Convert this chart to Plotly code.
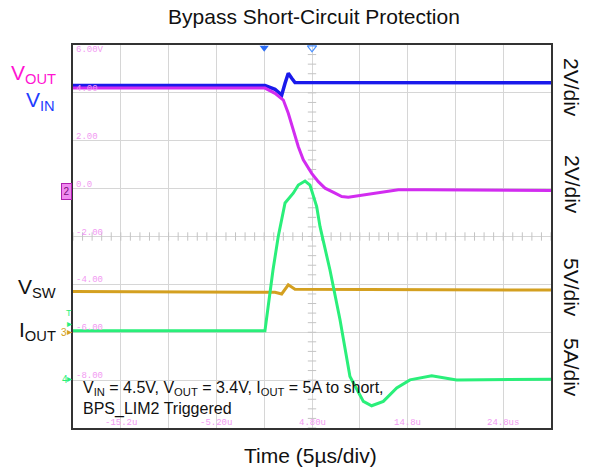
import numpy as np
import plotly.graph_objects as go

# ---------------- data (time in µs, amplitude in screen units of the ch2 scale: 2 per division) ----
t_vin = [-20.2, -0.12, 0.93, 1.63, 1.98, 2.32, 2.68, 3.02, 29.8]
v_vin = [4.31, 4.31, 4.15, 3.91, 4.40, 4.82, 4.61, 4.43, 4.42]

t_vout = [-20.2, -0.12, 0.93, 1.80, 2.32, 2.68, 3.02, 3.37, 3.89, 4.77, 5.46, 6.16,
          7.21, 7.91, 8.60, 10.34, 12.09, 13.83, 16.62, 29.8]
v_vout = [4.20, 4.20, 3.98, 3.70, 3.15, 2.66, 2.17, 1.75, 1.20, 0.64, 0.29, 0.02,
          -0.19, -0.33, -0.36, -0.26, -0.13, -0.05, -0.05, -0.08]

t_vsw = [-20.2, -0.12, 0.93, 1.63, 2.32, 3.02, 29.8]
v_vsw = [-4.30, -4.30, -4.33, -4.40, -4.02, -4.20, -4.24]

t_iout = [-20.2, -0.12, 0.72, 1.27, 1.98, 2.84, 3.37, 4.07, 4.59, 4.94, 5.29, 5.64,
          6.68, 7.73, 8.77, 10.17, 11.04, 12.26, 13.66, 15.05, 17.32, 19.93, 29.8]
v_iout = [-5.94, -5.94, -3.40, -2.00, -0.60, -0.19, 0.15, 0.32, 0.15, -0.33, -0.75, -1.59,
          -3.40, -5.48, -7.85, -8.89, -9.07, -8.89, -8.33, -7.99, -7.82, -7.99, -7.96]

x_range = [-20.2, 29.8]
y_range = [-10, 6]
x_grid = [-15.2, -10.2, -5.2, -0.2, 4.8, 9.8, 14.8, 19.8, 24.8]
x_tick_vals = [-15.2, -5.2, 4.8, 14.8, 24.8]
x_tick_text = ["-15.2u", "-5.20u", "4.80u", "14.8u", "24.8us"]
y_grid = [4, 2, 0, -2, -4, -6, -8]
y_tick_vals = [6, 4, 2, 0, -2, -4, -6, -8]
y_tick_text = ["6.00V", "4.00", "2.00", "0.0", "-2.00", "-4.00", "-6.00", "-8.00"]
trigger_time = [-0.2]
center_time = [4.8]
center_level = -2

scale_labels = ["2V/div", "2V/div", "5V/div", "5A/div"]

# ---------------- colours ----------------
C_BLUE = "#1a1aeb"
C_MAG = "#d22cf0"
C_GOLD = "#d4a020"
C_GREEN = "#2aef7a"
C_PINK = "#f29af2"
FONT = "Liberation Sans, Arial, sans-serif"

L, R, T, B = 73, 42, 45, 42
W, H = 593, 470
PW, PH = W - L - R, H - T - B


def px_x(p):
    return (p - L) / PW


def px_y(p):
    return 1 - (p - T) / PH


fig = go.Figure()

# minor ticks on the centre cross-hair
minor_x = np.arange(x_range[0], x_range[1] + 1e-9, 1.0)
minor_y = np.arange(y_range[0], y_range[1] + 1e-9, 0.4)
fig.add_trace(go.Scatter(x=minor_x, y=[center_level] * len(minor_x), mode="markers",
                         marker=dict(symbol="line-ns", size=6, line=dict(width=1, color="#c4c4c4")),
                         hoverinfo="skip", showlegend=False))
fig.add_trace(go.Scatter(x=center_time * len(minor_y), y=minor_y, mode="markers",
                         marker=dict(symbol="line-ew", size=6, line=dict(width=1, color="#c4c4c4")),
                         hoverinfo="skip", showlegend=False))

fig.add_trace(go.Scatter(x=t_vin, y=v_vin, mode="lines", line=dict(color=C_BLUE, width=3.5),
                         showlegend=False))
fig.add_trace(go.Scatter(x=t_vout, y=v_vout, mode="lines", line=dict(color=C_MAG, width=3),
                         showlegend=False))
fig.add_trace(go.Scatter(x=t_vsw, y=v_vsw, mode="lines", line=dict(color=C_GOLD, width=3),
                         showlegend=False))
fig.add_trace(go.Scatter(x=t_iout, y=v_iout, mode="lines", line=dict(color=C_GREEN, width=3),
                         showlegend=False))

# trigger markers on top edge
fig.add_trace(go.Scatter(x=trigger_time, y=[y_range[1] - 0.12], mode="markers", cliponaxis=False,
                         marker=dict(symbol="triangle-down", size=8, color="#2a6cf5"),
                         hoverinfo="skip", showlegend=False))
fig.add_trace(go.Scatter(x=center_time, y=[y_range[1] - 0.12], mode="markers", cliponaxis=False,
                         marker=dict(symbol="triangle-down-open", size=8, color="#4a90ff",
                                     line=dict(width=1.2)),
                         hoverinfo="skip", showlegend=False))

ann = []
# scope graticule labels (pink)
for v, txt in zip(y_tick_vals, y_tick_text):
    ann.append(dict(x=x_range[0], y=v, xref="x", yref="y", text=txt, showarrow=False,
                    xanchor="left", yanchor="middle", xshift=1, yshift=(-5 if v == y_range[1] else 4),
                    font=dict(family="Liberation Mono, DejaVu Sans Mono, monospace", size=9, color=C_PINK)))
for v, txt in zip(x_tick_vals, x_tick_text):
    ann.append(dict(x=v, y=y_range[0], xref="x", yref="y", text=txt, showarrow=False,
                    xanchor="center", yanchor="middle", yshift=5, borderpad=0,
                    font=dict(family="Liberation Mono, DejaVu Sans Mono, monospace", size=9, color=C_PINK)))

# channel labels on the left
ann.append(dict(x=px_x(58), y=px_y(74), xref="paper", yref="paper", text="V<sub>OUT</sub>",
                showarrow=False, xanchor="right", yanchor="middle",
                font=dict(family=FONT, size=21, color="#ff14d2")))
ann.append(dict(x=px_x(57), y=px_y(101), xref="paper", yref="paper", text="V<sub>IN</sub>",
                showarrow=False, xanchor="right", yanchor="middle",
                font=dict(family=FONT, size=21, color="#1f3dff")))
ann.append(dict(x=px_x(58), y=px_y(288), xref="paper", yref="paper", text="V<sub>SW</sub>",
                showarrow=False, xanchor="right", yanchor="middle",
                font=dict(family=FONT, size=21, color="#111111")))
ann.append(dict(x=px_x(57), y=px_y(331), xref="paper", yref="paper", text="I<sub>OUT</sub>",
                showarrow=False, xanchor="right", yanchor="middle", borderpad=0,
                font=dict(family=FONT, size=21, color="#111111")))

# channel markers
ann.append(dict(x=px_x(66.5), y=px_y(191), xref="paper", yref="paper", text="2",
                showarrow=False, xanchor="center", yanchor="middle", width=9, height=15,
                bgcolor="#f08af0", bordercolor="#b020b0", borderwidth=1, borderpad=0,
                font=dict(family=FONT, size=10, color="#7a107a")))
ann.append(dict(x=px_x(69), y=px_y(313), xref="paper", yref="paper", text="T",
                showarrow=False, xanchor="center", yanchor="middle",
                font=dict(family=FONT, size=9, color=C_GREEN)))
ann.append(dict(x=px_x(73), y=px_y(323), xref="paper", yref="paper", text="▸",
                showarrow=False, xanchor="right", yanchor="middle", borderpad=0,
                font=dict(family="DejaVu Sans", size=10, color=C_GREEN)))
ann.append(dict(x=px_x(64), y=px_y(332), xref="paper", yref="paper", text="3",
                showarrow=False, xanchor="center", yanchor="middle", borderpad=0,
                font=dict(family=FONT, size=10, color=C_GOLD)))
ann.append(dict(x=px_x(73), y=px_y(331), xref="paper", yref="paper", text="▸",
                showarrow=False, xanchor="right", yanchor="middle", borderpad=0,
                font=dict(family="DejaVu Sans", size=10, color=C_GOLD)))
ann.append(dict(x=px_x(65), y=px_y(379), xref="paper", yref="paper", text="4",
                showarrow=False, xanchor="center", yanchor="middle", borderpad=0,
                font=dict(family=FONT, size=10, color=C_GREEN)))
ann.append(dict(x=px_x(73), y=px_y(378), xref="paper", yref="paper", text="▸",
                showarrow=False, xanchor="right", yanchor="middle", borderpad=0,
                font=dict(family="DejaVu Sans", size=10, color=C_GREEN)))

# vertical scale labels on the right
for yc, txt in zip([87, 184, 287, 367], scale_labels):
    ann.append(dict(x=px_x(572), y=px_y(yc), xref="paper", yref="paper", text=txt,
                    showarrow=False, textangle=90, xanchor="center", yanchor="middle",
                    font=dict(family=FONT, size=21, color="#111111")))

# condition note
ann.append(dict(x=px_x(82), y=px_y(378), xref="paper", yref="paper",
                text="V<sub>IN</sub> = 4.5V, V<sub>OUT</sub> = 3.4V, I<sub>OUT</sub> = 5A to short,<br>BPS_LIM2 Triggered",
                showarrow=False, xanchor="left", yanchor="top", align="left", borderpad=0,
                font=dict(family=FONT, size=16, color="#111111")))

# x-axis title
ann.append(dict(x=px_x(310), y=px_y(456), xref="paper", yref="paper", text="Time (5µs/div)",
                showarrow=False, xanchor="center", yanchor="middle",
                font=dict(family=FONT, size=21, color="#111111")))

fig.update_layout(
    width=W, height=H,
    margin=dict(l=L, r=R, t=T, b=B),
    paper_bgcolor="white", plot_bgcolor="white",
    title=dict(text="Bypass Short-Circuit Protection", x=314 / W, xanchor="center",
               y=1 - 17 / H, yanchor="middle",
               font=dict(family=FONT, size=21, color="#111111")),
    annotations=ann,
    xaxis=dict(range=x_range, tickvals=x_grid, showticklabels=False, ticks="",
               showgrid=True, gridcolor="#d6d6d6", gridwidth=1, zeroline=False,
               showline=True, linecolor="#333333", linewidth=1.5, mirror=True, fixedrange=True),
    yaxis=dict(range=y_range, tickvals=y_grid, showticklabels=False, ticks="",
               showgrid=True, gridcolor="#d6d6d6", gridwidth=1, zeroline=False,
               showline=True, linecolor="#333333", linewidth=1.5, mirror=True, fixedrange=True),
    showlegend=False,
)

fig.write_html("out.html", config={"displayModeBar": False},
               post_script="document.body.style.margin='0';document.body.style.overflow='hidden';")
